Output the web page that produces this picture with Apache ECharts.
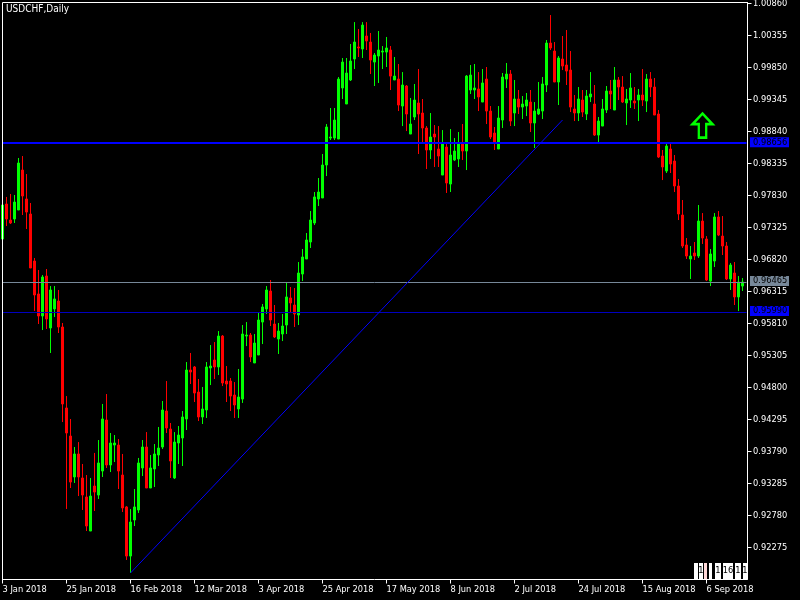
<!DOCTYPE html>
<html><head><meta charset="utf-8">
<style>html,body{margin:0;padding:0;background:#000}#c{width:800px;height:600px}</style>
<script src="https://cdn.jsdelivr.net/npm/echarts@6/dist/echarts.min.js"></script>
</head><body><div id="c"></div>
<script>
const symbolTitle = "USDCHF,Daily";
const opens = [
0.97143,0.97696,0.97443,0.97459,0.97601,0.98232,0.97775,0.97538,0.96796,0.96276,
0.95928,0.96559,0.95739,0.96039,0.96165,0.95755,0.94477,0.94034,0.93388,0.93751,
0.93372,0.93072,0.92535,0.93245,0.93103,0.93482,0.94287,0.93577,0.93892,0.93892,
0.93419,0.92915,0.92140,0.92709,0.92867,0.93530,0.93861,0.93214,0.93514,0.93735,
0.93861,0.94429,0.94145,0.93372,0.93924,0.94003,0.94303,0.95076,0.95124,0.94728,
0.94335,0.94445,0.95108,0.95234,0.95124,0.95612,0.94902,0.94902,0.94681,0.94461,
0.94618,0.95612,0.95628,0.95187,0.95313,0.95833,0.96039,0.96323,0.95802,0.95565,
0.95644,0.95786,0.96213,0.96102,0.95944,0.96591,0.96828,0.97096,0.97396,0.97775,
0.97791,0.98311,0.98737,0.98737,0.98721,0.99527,0.99274,0.99653,0.99984,1.00174,
1.00142,1.00347,1.00252,0.99936,1.00031,1.00094,1.00094,1.00126,0.99653,0.99668,
0.99242,0.99558,0.98800,0.99069,0.99290,0.99132,0.98895,0.98548,0.98800,0.98564,
0.98153,0.98595,0.98011,0.98390,0.98406,0.98659,0.98532,0.99495,0.99495,0.99511,
0.99305,0.99668,0.99163,0.98816,0.98564,0.99021,0.99668,0.99747,0.99132,0.99353,
0.99226,0.99242,0.99305,0.98974,0.99116,0.99163,0.99574,1.00236,1.00110,0.99621,
0.99984,0.99889,0.99810,0.99195,0.99132,0.99337,0.99116,0.99385,0.99274,0.98784,
0.98926,0.99179,0.99479,0.99179,0.99653,0.99542,0.99290,0.99337,0.99321,0.99337,
0.99416,0.99321,0.99668,0.99542,0.99116,0.98453,0.98216,0.98564,0.98374,0.97980,
0.97522,0.97049,0.96828,0.96923,0.96875,0.97427,0.97143,0.96480,0.96796,0.97491,
0.97190,0.97033,0.96512,0.96607,0.96229,0.96401];
const closes = [
0.97680,0.97459,0.97396,0.97727,0.98343,0.97822,0.97569,0.96686,0.96260,0.95928,
0.96544,0.95881,0.96339,0.96197,0.95755,0.94540,0.94082,0.93308,0.93751,0.93388,
0.93103,0.92614,0.93087,0.93150,0.93609,0.94303,0.93577,0.93924,0.93924,0.93482,
0.92899,0.92140,0.92677,0.92915,0.93609,0.93861,0.93214,0.93530,0.93751,0.93845,
0.94445,0.94161,0.93640,0.93939,0.94050,0.94335,0.95076,0.95044,0.94713,0.94335,
0.94461,0.95124,0.95139,0.95124,0.95612,0.94871,0.94855,0.94665,0.94524,0.94650,
0.95644,0.95628,0.95282,0.95502,0.95865,0.96071,0.96339,0.95865,0.95597,0.95691,
0.95770,0.96229,0.96134,0.95960,0.96607,0.96860,0.97128,0.97443,0.97807,0.97885,
0.98311,0.98911,0.98753,0.99021,0.99668,0.99936,0.99763,0.99952,1.00252,1.00158,
1.00520,1.00268,0.99968,1.00047,1.00126,1.00110,1.00158,0.99715,0.99715,0.99258,
0.99574,0.99116,0.98958,0.99337,0.99116,0.98895,0.98548,0.98753,0.98753,0.98453,
0.98643,0.98027,0.98469,0.98532,0.98659,0.98532,0.99715,0.99731,0.99527,0.99385,
0.99606,0.99163,0.98753,0.98674,0.99053,0.99700,0.99747,0.99005,0.99353,0.99226,
0.99274,0.99337,0.98974,0.99163,0.99195,0.99590,1.00236,1.00158,0.99621,1.00000,
0.99873,0.99794,0.99226,0.99132,0.99353,0.99147,0.99400,0.99432,0.98784,0.99005,
0.99195,0.99479,0.99432,0.99653,0.99542,0.99305,0.99353,0.99527,0.99290,0.99416,
0.99337,0.99668,0.99542,0.99100,0.98437,0.98280,0.98611,0.98327,0.97980,0.97538,
0.97033,0.96875,0.96875,0.96875,0.97427,0.97159,0.96496,0.96907,0.97491,0.97206,
0.97033,0.96512,0.96733,0.96229,0.96464,0.96464];
const lows = [
0.97143,0.97348,0.97380,0.97396,0.97601,0.97522,0.97301,0.96686,0.96007,0.95802,
0.95707,0.95723,0.95345,0.95913,0.95660,0.94255,0.92883,0.93214,0.93293,0.93087,
0.92867,0.92535,0.92535,0.92851,0.93040,0.93388,0.93530,0.93466,0.93624,0.93198,
0.92835,0.92078,0.91873,0.92614,0.92820,0.93403,0.93214,0.93214,0.93230,0.93561,
0.93829,0.94082,0.93372,0.93356,0.93593,0.93561,0.94129,0.94855,0.94571,0.94271,
0.94224,0.94319,0.94839,0.94934,0.94997,0.94823,0.94571,0.94429,0.94319,0.94319,
0.94556,0.95454,0.95202,0.95187,0.95313,0.95486,0.95960,0.95770,0.95581,0.95329,
0.95533,0.95644,0.95976,0.95755,0.95786,0.96480,0.96828,0.97002,0.97364,0.97664,
0.97791,0.98137,0.98706,0.98706,0.98721,0.99353,0.99274,0.99637,0.99826,1.00016,
1.00000,1.00126,0.99747,0.99558,0.99606,0.99826,0.99858,0.99495,0.99653,0.99163,
0.98926,0.98847,0.98800,0.99021,0.98485,0.98674,0.98248,0.98406,0.98280,0.98280,
0.98153,0.97870,0.97885,0.98374,0.98280,0.98390,0.98232,0.99432,0.99353,0.99163,
0.99305,0.98958,0.98721,0.98548,0.98564,0.98895,0.99527,0.98926,0.98926,0.99116,
0.99037,0.99084,0.98832,0.98580,0.99100,0.99037,0.99463,1.00126,0.99621,0.99258,
0.99810,0.99574,0.99147,0.99005,0.99005,0.99069,0.99021,0.99305,0.98769,0.98674,
0.98926,0.99132,0.99195,0.99179,0.99337,0.99290,0.98942,0.99211,0.99195,0.99005,
0.99242,0.99147,0.99385,0.99100,0.98422,0.98074,0.98185,0.98185,0.97885,0.97443,
0.97002,0.96828,0.96512,0.96812,0.96844,0.97065,0.96480,0.96401,0.96702,0.97190,
0.96891,0.96496,0.96339,0.96102,0.96007,0.96323];
const highs = [
0.97680,0.97807,0.97854,0.97838,0.98422,0.98453,0.98169,0.97712,0.96844,0.96654,
0.96575,0.96670,0.96401,0.96401,0.96339,0.95818,0.94665,0.94303,0.93861,0.93939,
0.93593,0.93419,0.93372,0.93767,0.93971,0.94540,0.94697,0.94082,0.94050,0.93987,
0.93751,0.92930,0.92883,0.93198,0.93688,0.93971,0.94097,0.93735,0.93908,0.94177,
0.94587,0.94902,0.94240,0.94097,0.94192,0.94429,0.95202,0.95345,0.95139,0.94934,
0.94808,0.95202,0.95470,0.95517,0.95691,0.95628,0.95139,0.94950,0.94886,0.95092,
0.95786,0.95833,0.95660,0.95644,0.95976,0.96118,0.96401,0.96496,0.96102,0.95818,
0.95960,0.96464,0.96386,0.96370,0.96780,0.96986,0.97238,0.97585,0.97885,0.98106,
0.98485,0.98958,0.99211,0.99211,0.99700,1.00000,1.00000,1.00221,1.00567,1.00457,
1.00567,1.00567,1.00395,1.00079,1.00426,1.00189,1.00332,1.00189,1.00016,0.99905,
0.99778,0.99574,0.99369,0.99590,0.99826,0.99353,0.98926,0.99132,0.98942,0.98926,
0.98863,0.98659,0.98879,0.98737,0.98832,0.98958,0.99731,0.99889,0.99905,0.99778,
0.99826,0.99858,0.99242,0.98911,0.99242,0.99763,0.99921,0.99810,0.99653,0.99495,
0.99400,0.99448,0.99495,0.99305,0.99621,0.99700,1.00284,1.00678,1.00252,1.00031,
1.00347,1.00442,1.00110,0.99416,0.99542,0.99495,0.99495,0.99778,0.99574,0.99069,
0.99353,0.99558,0.99653,0.99858,0.99700,0.99715,0.99511,0.99763,0.99542,0.99511,
0.99826,0.99747,0.99778,0.99684,0.99179,0.98548,0.98659,0.98659,0.98469,0.98090,
0.97759,0.97159,0.97033,0.97096,0.97680,0.97553,0.97190,0.96986,0.97553,0.97585,
0.97506,0.97096,0.96765,0.96780,0.96559,0.96528];
const tickLabels = ["3 Jan 2018","25 Jan 2018","16 Feb 2018","12 Mar 2018","3 Apr 2018","25 Apr 2018",
  "17 May 2018","8 Jun 2018","2 Jul 2018","24 Jul 2018","15 Aug 2018","6 Sep 2018"];
const barsPerTick = 16;
const priceTicks = [0.92275,0.92780,0.93285,0.93790,0.94295,0.94800,0.95305,0.95810,0.96315,0.96820,
  0.97325,0.97830,0.98335,0.98840,0.99345,0.99850,1.00355,1.00860];
const resistanceLine = 0.98656;
const bidLine = 0.96465;
const supportLine = 0.95990;
const trendStart = [32, 0.91873];
const trendEnd = [140, 0.99021];
const arrowAt = [175, 0.98934];
const periodFlags = ["", "1", "", "", "1", "16", "1", "1"];

const BLUE = "#0000ff", GREEN = "#00ff00", RED = "#ff0000", FONT = "'DejaVu Sans Condensed','DejaVu Sans',sans-serif";
const categories = [];
for (let i = 0; i <= opens.length; i++) categories.push(i % barsPerTick === 0 ? (tickLabels[i / barsPerTick] || "") : "");
const ohlc = opens.map((o, i) => [o, closes[i], lows[i], highs[i]]);

const tag = (bg) => ({
  show: true, position: "end", distance: 3, offset: [0.5, -1], formatter: p => p.value.toFixed(5),
  color: "#000", backgroundColor: bg, fontFamily: FONT, fontSize: 9.2,
  padding: [0, 3, 1, 3], width: 33, height: 9, lineHeight: 9, align: "left"
});

const flagBoxes = [[694,698],[699,703],[704,707],[709,712],[715,721],[723,733],[735,741],[743,747]];
const graphics = [
  { type: "polyline", silent: true, z: 20, shape: { points: [[2.5,579.5],[2.5,2.5],[747.5,2.5]] },
    style: { stroke: "#fff", lineWidth: 1, fill: null } }
];
flagBoxes.forEach((b, i) => {
  graphics.push({ type: "rect", silent: true, z: 20, shape: { x: b[0], y: 563, width: b[1] - b[0], height: 16 },
    style: { fill: i === 2 ? "#ffd8d8" : "#fff" } });
  if (periodFlags[i]) graphics.push({ type: "text", silent: true, z: 21, x: (b[0] + b[1]) / 2, y: 566,
    style: { text: periodFlags[i], fill: "#000", font: "9.2px " + FONT, textAlign: "center" } });
});

const chart = echarts.init(document.getElementById("c"), null, { renderer: "canvas" });
chart.setOption({
  animation: false,
  backgroundColor: "#000",
  title: { text: symbolTitle, left: 6, top: 4, padding: 0,
    textStyle: { color: "#fff", fontSize: 10, fontWeight: "normal", fontFamily: FONT } },
  grid: { left: 2.5, top: 2.5, width: 744, height: 577, outerBoundsMode: "none" },
  xAxis: {
    type: "category", data: categories, boundaryGap: false,
    axisLine: { lineStyle: { color: "#fff", width: 1, cap: "square" } },
    axisTick: { show: true, length: 4, interval: barsPerTick - 1, lineStyle: { color: "#fff" } },
    axisLabel: { interval: barsPerTick - 1, color: "#fff", fontFamily: FONT, fontSize: 9.2, margin: 6,
      align: "left", hideOverlap: false },
    splitLine: { show: false }
  },
  yAxis: {
    type: "value", position: "right", offset: 1, min: 0.9177, max: 1.00876, scale: true,
    axisLine: { show: true, lineStyle: { color: "#fff", width: 1 } },
    axisTick: { show: true, length: 4, customValues: priceTicks, lineStyle: { color: "#fff" } },
    axisLabel: { color: "#fff", fontFamily: FONT, fontSize: 9.2, margin: 5.5, padding: [3, 0, 0, 0], customValues: priceTicks,
      formatter: v => v.toFixed(5) },
    splitLine: { show: false }
  },
  graphic: graphics,
  series: [{
    type: "candlestick", data: ohlc, barWidth: 3, clip: true,
    itemStyle: { color: GREEN, color0: RED, borderColor: GREEN, borderColor0: RED, borderWidth: 1 },
    markPoint: {
      silent: true, animation: false,
      data: [{ coord: arrowAt, symbol: "path://M11.5 0 L23 12 L15.75 12 L15.75 27 L7.25 27 L7.25 12 L0 12 Z",
        symbolSize: [20, 24], label: { show: false },
        itemStyle: { color: "rgba(0,0,0,0)", borderColor: GREEN, borderWidth: 2.5 } }]
    },
    markLine: {
      silent: true, animation: false, symbol: ["none", "none"],
      precision: 5,
      data: [
        { yAxis: resistanceLine, lineStyle: { color: BLUE, width: 2, type: "solid" }, label: tag(BLUE) },
        { yAxis: bidLine, lineStyle: { color: "#778899", width: 1, type: "solid" }, label: tag("#778899") },
        { yAxis: supportLine, lineStyle: { color: "#0000c0", width: 1, type: "solid" }, label: tag(BLUE) },
        [ { coord: trendStart, lineStyle: { color: BLUE, width: 1, type: "solid" }, label: { show: false } },
          { coord: trendEnd } ]
      ]
    }
  }]
});
</script></body></html>
